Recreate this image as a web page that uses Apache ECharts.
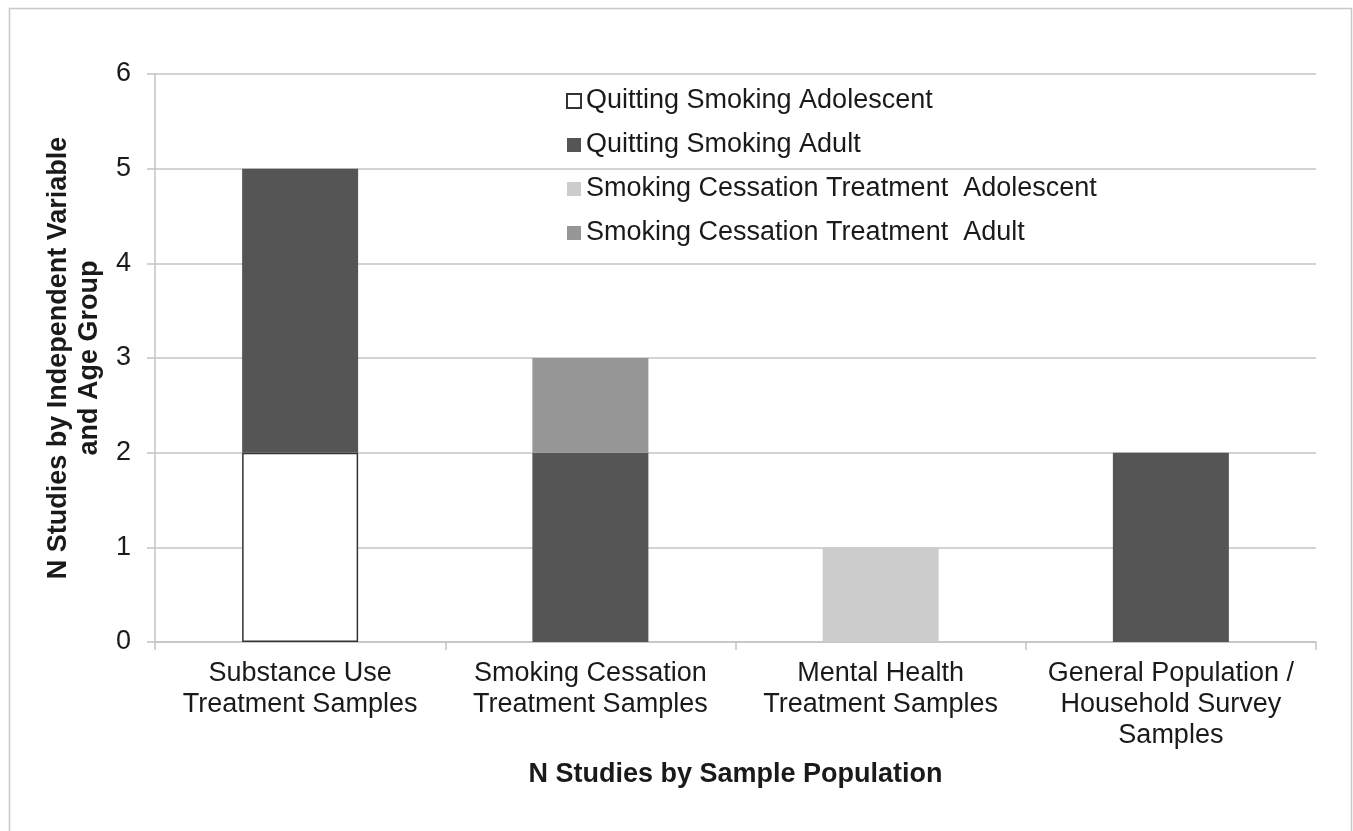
<!DOCTYPE html>
<html>
<head>
<meta charset="utf-8">
<script src="https://cdn.jsdelivr.net/npm/echarts@6/dist/echarts.min.js"></script>
<style>
html,body{margin:0;padding:0;background:#fff;}
#c{width:1353px;height:831px;}
</style>
</head>
<body>
<div id="c"></div>
<script>
const categories = ["Substance Use\nTreatment Samples", "Smoking Cessation\nTreatment Samples", "Mental Health\nTreatment Samples", "General Population /\nHousehold Survey\nSamples"];
const seriesNames = ["Quitting Smoking Adolescent", "Quitting Smoking Adult", "Smoking Cessation Treatment  Adolescent", "Smoking Cessation Treatment  Adult"];
const quitAdolescent = [2, 0, 0, 0];
const quitAdult = [3, 2, 0, 2];
const cessAdolescent = [0, 0, 1, 0];
const cessAdult = [0, 1, 0, 0];
const yTicks = [0, 1, 2, 3, 4, 5, 6];

const chart = echarts.init(document.getElementById('c'));
const font = 'Liberation Sans, Arial, sans-serif';
const colors = ['#ffffff', '#555555', '#cccccc', '#969696'];
const datas = [quitAdolescent, quitAdult, cessAdolescent, cessAdult];

chart.setOption({
  animation: false,
  backgroundColor: '#fff',
  graphic: [{
    type: 'rect', left: 7, top: 6, shape: {width: 1342, height: 840},
    style: {fill: 'none', stroke: '#c8c8c8', lineWidth: 1.5}, silent: true
  }],
  legend: {
    orient: 'vertical', left: 561, top: 81,
    itemWidth: 14, itemHeight: 14, itemGap: 14,
    icon: 'rect',
    textStyle: {fontFamily: font, fontSize: 27, color: '#1a1a1a', lineHeight: 30},
    data: seriesNames
  },
  grid: {left: 155, right: 37, top: 74, bottom: 189, containLabel: false},
  xAxis: {
    type: 'category', data: categories,
    name: 'N Studies by Sample Population', nameLocation: 'middle', nameGap: 119,
    nameTextStyle: {fontFamily: font, fontSize: 27, fontWeight: 'bold', color: '#1a1a1a'},
    axisLine: {lineStyle: {color: '#c4c4c4', width: 1.5}},
    axisTick: {show: true, length: 8, lineStyle: {color: '#c4c4c4', width: 1.5}},
    axisLabel: {fontFamily: font, fontSize: 27, color: '#1a1a1a', lineHeight: 31, margin: 16, interval: 0}
  },
  yAxis: {
    type: 'value', min: 0, max: 6, interval: 1,
    name: 'N Studies by Independent Variable\nand Age Group', nameLocation: 'middle', nameGap: 46,
    nameTextStyle: {fontFamily: font, fontSize: 27, fontWeight: 'bold', color: '#1a1a1a', lineHeight: 31},
    axisLine: {show: true, lineStyle: {color: '#c4c4c4', width: 1.5}},
    axisTick: {show: true, length: 8, lineStyle: {color: '#c4c4c4', width: 1.5}},
    axisLabel: {fontFamily: font, fontSize: 27, color: '#1a1a1a', margin: 24,
      formatter: v => yTicks.includes(v) ? String(v) : ''},
    splitLine: {lineStyle: {color: '#c4c4c4', width: 1.5}}
  },
  series: seriesNames.map((n, i) => ({
    name: n, type: 'bar', stack: 'total', barWidth: 116,
    data: datas[i].map(v => v === 0 ? null : v),
    itemStyle: i === 0 ? {color: colors[i], borderColor: '#333', borderWidth: 1.5} : {color: colors[i], borderWidth: 0}
  }))
});
</script>
</body>
</html>
